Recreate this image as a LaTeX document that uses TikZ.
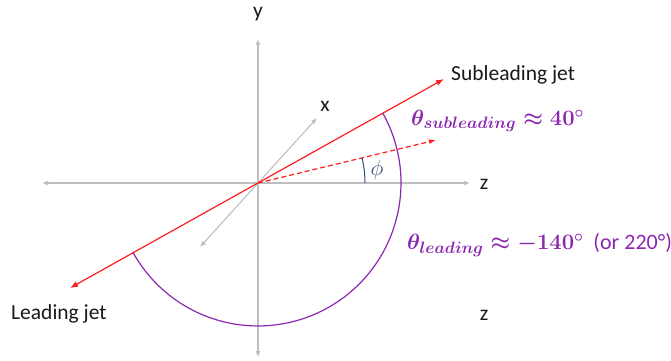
\RequirePackage{fix-cm}
\documentclass[tikz,border=0pt]{standalone}
\usepackage{fontspec}
\setmainfont{Carlito}
\usetikzlibrary{arrows.meta}
\definecolor{axgray}{RGB}{190,190,190}
\definecolor{jetred}{RGB}{255,30,30}
\definecolor{angpurple}{RGB}{140,40,175}
\definecolor{phiblue}{RGB}{50,75,120}
\newcommand{\subtxt}[1]{\mbox{\fontsize{16.5}{17}\selectfont\boldmath$#1$}}
\tikzset{
  axis/.style={draw=axgray, line width=1.1pt, {Latex[length=6pt,width=5pt]}-{Latex[length=6pt,width=5pt]}},
  jet/.style={draw=jetred, line width=1.2pt},
  lbl/.style={font=\fontsize{21.5}{24}\selectfont, text=black!90, inner sep=0pt},
  anglbl/.style={font=\fontsize{22}{26}\selectfont\boldmath, text=angpurple, inner sep=0pt, anchor=west}
}
\begin{document}
\begin{tikzpicture}[x=1pt,y=-1pt]
\useasboundingbox (0,0) rectangle (671,360);
\coordinate (O) at (258,183);
\coordinate (zL) at (42,183);
\coordinate (zR) at (470,183);
\coordinate (yT) at (258,39);
\coordinate (yB) at (258,357);
\coordinate (xT) at (317,118);
\coordinate (xB) at (200,247);
\coordinate (U) at (444,79);
\coordinate (L) at (70,288);
\coordinate (D) at (436,140);
\coordinate (S) at (382.8,113.2);
\coordinate (P) at (365,183);
% axes
\draw[axis] (zL) -- (zR);
\draw[axis] (yB) -- (yT);
\draw[axis] (xB) -- (xT);
% jets
\draw[jet, {Latex[length=8pt,width=6pt]}-{Latex[length=8pt,width=6pt]}] (L) -- (U);
\draw[jet, dashed, dash pattern=on 5pt off 3pt, -{Latex[length=7pt,width=5pt]}] (O) -- (D);
% angles
\draw[angpurple, line width=1.2pt] (S) arc[start angle=-29.2, end angle=151, radius=143];
\draw[phiblue, line width=1pt] (P) arc[start angle=0, end angle=-13.6, radius=107];
% labels
\node[lbl] (ly) at (258,14) {y};
\node[lbl] (lx) at (325,106) {x};
\node[lbl] (lz1) at (484,184) {z};
\node[lbl] (lz2) at (484,315) {z};
\node[lbl, anchor=west] (lsub) at (451,75) {Subleading jet};
\node[lbl, anchor=west] (llead) at (11,314) {Leading jet};
\node[font=\fontsize{22}{24}\selectfont, text=phiblue, inner sep=0pt] (lphi) at (377,170) {$\phi$};
\node[anglbl] (tsub) at (411,121) {$\theta_{\subtxt{subleading}}\approx 40^\circ$};
\node[anglbl] (tlead) at (407,245) {$\theta_{\subtxt{leading}}\approx -140^\circ$~ (or 220°)};
\end{tikzpicture}
\end{document}
